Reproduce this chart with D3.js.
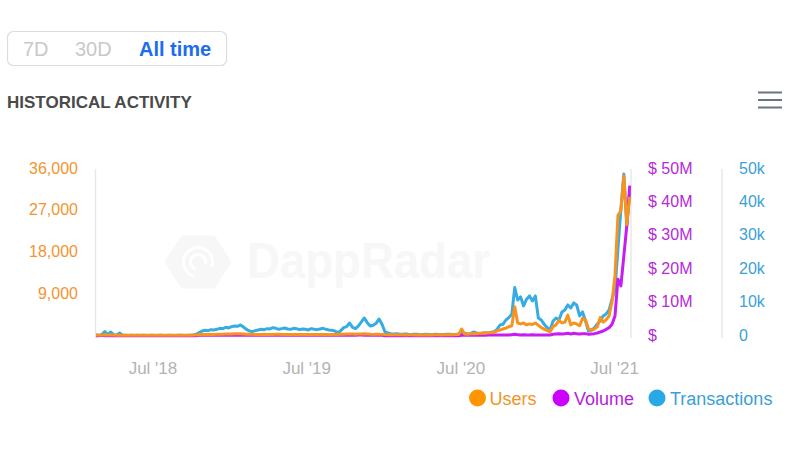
<!DOCTYPE html>
<html>
<head>
<meta charset="utf-8">
<script src="https://cdn.jsdelivr.net/npm/d3@7"></script>
<style>
  html, body { margin: 0; padding: 0; background: #fff; }
  svg { display: block; font-family: "Liberation Sans", Arial, Helvetica, sans-serif; }
</style>
</head>
<body>
<svg id="chart" width="800" height="458"></svg>
<script>
// ---- data (weekly samples) ----
const startDate = "2018-02-17";
const stepDays = 7;
const seriesNames = ["Users", "Volume", "Transactions"];
const rangeButtons = ["7D", "30D", "All time"];
const xTickDates = ["2018-07-01", "2019-07-01", "2020-07-01", "2021-07-01"];
const usersTicks = [9000, 18000, 27000, 36000];
const volumeTicks = [0, 10, 20, 30, 40, 50];          // $ millions
const txTicks = [0, 10000, 20000, 30000, 40000, 50000];

const users = [
  200,180,220,250,200,230,200,180,200,170,160,150,160,150,140,150,160,150,140,150,160,150,140,150,160,170,150,160,150,170,180,160,170,190,220,
  300,320,350,330,360,340,380,400,390,420,410,450,480,460,500,450,400,380,360,350,
  340,350,360,340,330,350,370,360,340,350,330,320,340,350,330,320,340,330,320,310,
  300,310,320,300,290,310,330,350,380,400,420,450,430,400,420,450,480,430,380,350,
  370,400,350,
  300,280,260,270,250,260,250,240,250,260,240,250,240,230,250,240,230,250,260,240,250,270,260,280,300,320,
  1500,
  450,400,500,550,500,600,650,600,700,750,
  800,1100,1300,1500,1700,2000,2200,6300,2800,2600,2800,2400,2600,2500,2800,
  2300,1800,1500,1200,900,2000,2400,3400,2800,3000,4500,2400,2800,2600,2200,3800,3500,1500,1200,1500,2000,
  4000,3000,3500,4300,7500,13000,26000,27000,34500,24000,30000
];

const volume = [ // $ millions
  0.1,0.1,0.2,0.1,0.1,0.1,0.1,0.1,0.1,0.1,0.1,0.1,0.1,0.1,0.1,
  0.1,0.1,0.1,0.1,0.1,0.1,0.1,0.1,0.1,0.1,0.1,0.1,0.1,0.1,0.1,
  0.1,0.1,0.1,0.1,0.1,0.2,0.2,0.2,0.2,0.2,0.2,0.2,0.3,0.2,0.2,
  0.2,0.2,0.2,0.2,0.3,0.2,0.2,0.2,0.2,0.2,0.2,0.2,0.2,0.2,0.2,
  0.2,0.2,0.2,0.2,0.2,0.2,0.2,0.2,0.2,0.2,0.2,0.2,0.2,0.2,0.2,
  0.2,0.2,0.2,0.2,0.2,0.2,0.2,0.2,0.2,0.2,0.3,0.2,0.2,0.2,0.3,
  0.3,0.2,0.2,0.2,0.2,0.2,0.2,0.2,0.1,0.1,0.1,0.1,0.1,0.1,0.1,
  0.1,0.1,0.1,0.1,0.1,0.1,0.1,0.1,0.1,0.1,0.1,0.1,0.1,0.1,0.1,
  0.1,0.1,0.1,0.1,0.2,0.2,0.2,0.2,0.2,0.2,0.2,0.2,0.2,0.3,0.3,
  0.3,0.3,0.3,0.3,0.3,0.3,0.4,0.5,0.4,0.3,0.4,0.3,0.3,0.4,0.3,
  0.3,0.3,0.3,0.3,0.3,0.5,0.6,0.7,0.6,0.7,0.8,0.6,0.8,0.7,0.6,0.7,0.7,0.5,0.6,0.7,0.9,
  1.2,1.5,2.0,2.5,3.5,6,17,15,24,33,45
];

const transactions = [
  300,250,400,1300,500,1200,400,300,900,250,
  200,150,200,180,220,150,200,170,150,200,180,160,200,150,170,200,180,150,200,220,180,200,250,300,500,
  1000,1500,1700,1600,1900,1800,2000,2300,2200,2600,2400,2800,3000,2900,3300,2700,2000,1500,1300,1600,
  1800,2000,1900,2200,2100,2500,2300,2000,2200,2400,2100,2000,2300,2200,1900,2100,2000,1800,2200,2000,1900,2100,2300,2000,1800,
  1700,1500,1000,1600,2500,2800,3900,2600,2200,3000,4200,5400,4000,3000,3200,3800,5100,3500,
  1200,
  900,700,600,650,500,550,600,500,450,500,550,400,450,500,450,400,500,450,400,450,500,550,450,500,600,1100,
  800,600,700,1200,900,700,800,1000,900,1100,
  1300,2000,3300,3500,4800,5500,6500,14500,10800,11700,9000,11000,12000,10500,12000,
  5400,4800,3500,2500,1800,4500,5400,4800,7200,7800,9300,8400,9900,9300,6000,7200,4500,1500,1800,2400,3600,4500,6000,6600,7800,11000,
  14000,26000,38000,48500,33000,43000
];

// ---- setup ----
const colors = { users: "#f7931e", volume: "#c81cf2", tx: "#35ace3" };
const labelColors = { users: "#f3952f", volume: "#b52ad9", tx: "#3c9fd8" };
const parse = d3.utcParse("%Y-%m-%d");
const t0 = parse(startDate);
const dates = users.map((_, i) => d3.utcDay.offset(t0, i * stepDays));

const svg = d3.select("#chart");
const plotTop = 169, plotBottom = 336, plotLeft = 96, plotRight = 631;

const x = d3.scaleUtc().domain([parse("2018-02-17"), parse("2021-08-10")]).range([plotLeft, plotRight]);
const yUsers = d3.scaleLinear().domain([0, 36000]).range([plotBottom, plotTop]);
const yVol = d3.scaleLinear().domain([0, 50]).range([plotBottom, plotTop]);
const yTx = d3.scaleLinear().domain([0, 50000]).range([plotBottom, plotTop]);

// ---- range buttons ----
svg.append("rect").attr("x", 7.5).attr("y", 31.5).attr("width", 219).attr("height", 34)
  .attr("rx", 6).attr("fill", "#fff").attr("stroke", "#dcdcdc").attr("stroke-width", 1.2);
const btnX = [23, 75, 139];
rangeButtons.forEach((b, i) => {
  svg.append("text").attr("x", btnX[i]).attr("y", 56).text(b)
    .attr("font-size", 20)
    .attr("font-weight", i === 2 ? 700 : 400)
    .attr("fill", i === 2 ? "#1a6cf0" : "#c9c9c9");
});

// ---- title & menu ----
svg.append("text").attr("x", 7).attr("y", 107.5).text("HISTORICAL ACTIVITY")
  .attr("font-size", 17).attr("font-weight", 700).attr("fill", "#4a4a4a");
[92.5, 100, 107.5].forEach(yy => {
  svg.append("line").attr("x1", 758).attr("x2", 782).attr("y1", yy).attr("y2", yy)
    .attr("stroke", "#6b7280").attr("stroke-width", 2);
});

// ---- watermark ----
const wmColor = "#f7f7f7";
const wm = svg.append("g");
const hx = 198, hy = 262, hr = 30;
const hex = d3.range(6).map(k => {
  const a = Math.PI / 3 * k;
  return [hx + hr * Math.cos(a), hy + hr * 0.9 * Math.sin(a)];
});
wm.append("path").attr("d", "M" + hex.map(p => p.join(",")).join("L") + "Z")
  .attr("fill", wmColor).attr("stroke", wmColor).attr("stroke-width", 6).attr("stroke-linejoin", "round");
const arcG = d3.arc();
[[6, 9], [13, 16]].forEach(([ri, ro]) => {
  wm.append("path").attr("transform", `translate(${hx},${hy})`)
    .attr("d", arcG({ innerRadius: ri, outerRadius: ro, startAngle: -Math.PI * 0.9, endAngle: Math.PI * 0.6 }))
    .attr("fill", "#fff");
});
wm.append("text").attr("x", 247).attr("y", 278).text("DappRadar")
  .attr("font-size", 50).attr("font-weight", 700).attr("fill", wmColor)
  .attr("textLength", 243).attr("lengthAdjust", "spacingAndGlyphs");

// ---- axis lines ----
[plotLeft - 0.5, plotRight, 722].forEach(xx => {
  svg.append("line").attr("x1", xx).attr("x2", xx).attr("y1", plotTop).attr("y2", 338)
    .attr("stroke", "#e8e8e8").attr("stroke-width", 1.5);
});

// ---- axes ----
const gUsers = svg.append("g").attr("transform", `translate(${plotLeft},-1)`)
  .call(d3.axisLeft(yUsers).tickValues(usersTicks).tickSize(0).tickPadding(18).tickFormat(d3.format(",")));
const gVol = svg.append("g").attr("transform", `translate(${plotRight},-1)`)
  .call(d3.axisRight(yVol).tickValues(volumeTicks).tickSize(0).tickPadding(17)
    .tickFormat(v => v === 0 ? "$" : "$ " + v + "M"));
const gTx = svg.append("g").attr("transform", `translate(722,-1)`)
  .call(d3.axisRight(yTx).tickValues(txTicks).tickSize(0).tickPadding(17)
    .tickFormat(v => v === 0 ? "0" : (v / 1000) + "k"));
const gX = svg.append("g").attr("transform", `translate(0,${plotBottom})`)
  .call(d3.axisBottom(x).tickValues(xTickDates.map(parse)).tickSize(0).tickPadding(26)
    .tickFormat(d3.utcFormat("%b '%y")));

[[gUsers, labelColors.users], [gVol, labelColors.volume], [gTx, labelColors.tx], [gX, "#b3b3b3"]].forEach(([g, c]) => {
  g.select(".domain").remove();
  g.selectAll("text").attr("fill", c).attr("font-size", g === gX ? 17 : 16)
    .attr("font-family", '"Liberation Sans", Arial, sans-serif');
});

// ---- lines ----
const mkLine = (scale) => d3.line().x((d, i) => x(dates[i])).y(d => scale(d));
svg.append("path").datum(transactions).attr("d", mkLine(yTx))
  .attr("fill", "none").attr("stroke", colors.tx).attr("stroke-width", 3).attr("stroke-linejoin", "round");
svg.append("path").datum(volume).attr("d", mkLine(yVol))
  .attr("fill", "none").attr("stroke", colors.volume).attr("stroke-width", 3).attr("stroke-linejoin", "round");
svg.append("path").datum(users).attr("d", mkLine(yUsers))
  .attr("fill", "none").attr("stroke", colors.users).attr("stroke-width", 3).attr("stroke-linejoin", "round");

// ---- legend ----
const legend = [
  { name: seriesNames[0], color: "#ff9500", text: "#f39425", cx: 477.5, tx: 489.5 },
  { name: seriesNames[1], color: "#cc00ff", text: "#b521dd", cx: 561, tx: 574 },
  { name: seriesNames[2], color: "#29a8e6", text: "#3a9fd8", cx: 657, tx: 670 }
];
legend.forEach(l => {
  svg.append("circle").attr("cx", l.cx).attr("cy", 398).attr("r", 8.5).attr("fill", l.color);
  svg.append("text").attr("x", l.tx).attr("y", 404.5).text(l.name)
    .attr("font-size", 18).attr("fill", l.text);
});
</script>
</body>
</html>
